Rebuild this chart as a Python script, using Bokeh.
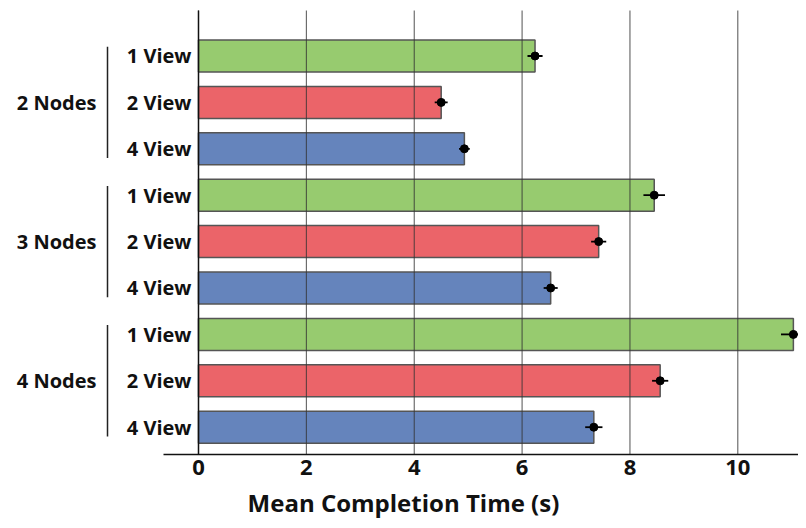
from bokeh.plotting import figure
from bokeh.models import Range1d, FixedTicker, ColumnDataSource
from bokeh.core.properties import value
from bokeh.embed import file_html
from bokeh.resources import INLINE

# ---- data ----
groups = ["2 Nodes", "3 Nodes", "4 Nodes"]
views = ["1 View", "2 View", "4 View"]
view_colors = ["#97CB6F", "#EB6469", "#6584BC"]
means = [6.24, 4.50, 4.93, 8.45, 7.42, 6.53, 11.03, 8.56, 7.33]
errors = [0.14, 0.12, 0.10, 0.20, 0.14, 0.13, 0.23, 0.15, 0.16]
x_ticks = [0, 2, 4, 6, 8, 10]
x_title = "Mean Completion Time (s)"

FONT = "Open Sans"
TXT = "#111111"

# layout constants (data units)
Y_TOP = -0.98        # top of axis region
Y_BOT = 8.58         # x-axis line position
X_LEFT = -0.649      # left end of x-axis line

ys, cols, lo, hi, labels = [], [], [], [], {}
for gi, g in enumerate(groups):
    for vi, v in enumerate(views):
        idx = gi * len(views) + vi
        ys.append(idx)
        cols.append(view_colors[vi])
        lo.append(means[idx] - errors[idx])
        hi.append(means[idx] + errors[idx])
        labels[idx] = v

src = ColumnDataSource(dict(y=ys, mean=means, lo=lo, hi=hi, color=cols))

W, H = 798, 520
p = figure(width=W, height=H,
           x_range=Range1d(-3.671, 11.125), y_range=Range1d(10.011, -1.196),
           output_backend="svg", toolbar_location=None, min_border=0)
p.outline_line_color = None
p.background_fill_color = "white"
p.xgrid.grid_line_color = None
p.ygrid.grid_line_color = None

p.hbar(y="y", left=0, right="mean", height=0.69, fill_color="color",
       line_color="#555555", line_width=1.5, source=src)

# vertical grid lines over the bars
grid_src = ColumnDataSource(dict(x=x_ticks, y0=[Y_TOP] * len(x_ticks),
                                 y1=[Y_BOT] * len(x_ticks)))
p.segment(x0="x", x1="x", y0="y0", y1="y1", line_color="#333333",
          line_alpha=0.85, line_width=1, source=grid_src)

p.segment(x0="lo", x1="hi", y0="y", y1="y", line_color="black",
          line_width=1.8, source=src)
p.scatter(x="mean", y="y", size=8, color="black", source=src)

# x axis
xa = p.xaxis[0]
xa.fixed_location = Y_BOT
xa.bounds = (X_LEFT, 11.3)
xa.ticker = FixedTicker(ticks=x_ticks)
xa.major_label_text_font = FONT
xa.major_label_text_font_style = "bold"
xa.major_label_text_font_size = "22px"
xa.major_label_text_color = TXT
xa.major_tick_out = 0
xa.major_tick_in = 0
xa.minor_tick_out = 0
xa.minor_tick_in = 0
xa.axis_line_color = "#111111"
xa.axis_line_width = 1.5
xa.major_label_standoff = 6

# y axis
ya = p.yaxis[0]
ya.fixed_location = 0
ya.bounds = (Y_TOP, Y_BOT)
ya.ticker = FixedTicker(ticks=ys)
ya.major_label_overrides = labels
ya.major_label_text_font = FONT
ya.major_label_text_font_style = "bold"
ya.major_label_text_font_size = "20px"
ya.major_label_text_color = TXT
ya.major_tick_out = 0
ya.major_tick_in = 0
ya.minor_tick_out = 0
ya.minor_tick_in = 0
ya.axis_line_color = "#111111"
ya.axis_line_width = 1.5
ya.major_label_standoff = 7

# group labels and brackets
n = len(views)
gsrc = ColumnDataSource(dict(
    name=groups,
    yc=[gi * n + (n - 1) / 2 for gi in range(len(groups))],
    y0=[gi * n - 0.2 for gi in range(len(groups))],
    y1=[gi * n + n - 1 + 0.2 for gi in range(len(groups))],
    xb=[-1.687] * len(groups),
    xt=[-1.891] * len(groups),
))
p.text(x="xt", y="yc", text="name", text_align="right", text_baseline="middle",
       text_font=value(FONT), text_font_style="bold", text_font_size="20px",
       text_color=TXT, source=gsrc)
p.segment(x0="xb", x1="xb", y0="y0", y1="y1", line_color="#222222",
          line_width=1.5, source=gsrc)

p.text(x=[3.80], y=[9.63], text=[x_title], text_align="center",
       text_baseline="middle", text_font=value(FONT), text_font_style="bold",
       text_font_size="24px", text_color=TXT)

open("out.html", "w").write(file_html(p, INLINE))
